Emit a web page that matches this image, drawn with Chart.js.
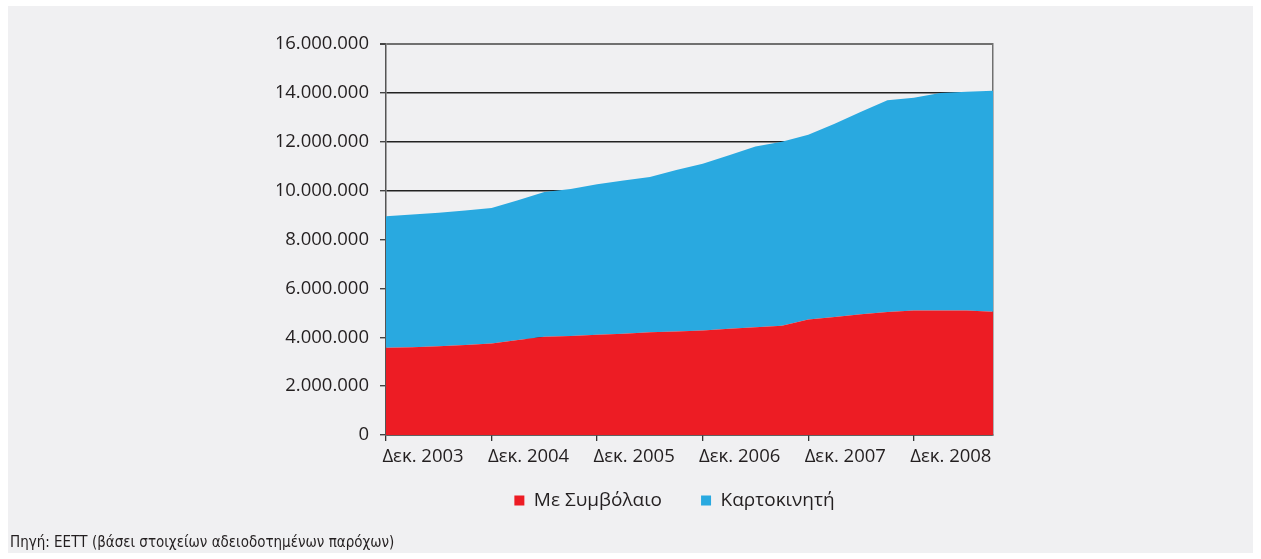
<!DOCTYPE html>
<html>
<head>
<meta charset="utf-8">
<script src="https://cdn.jsdelivr.net/npm/chart.js@4/dist/chart.umd.min.js"></script>
<style>
  html, body { margin: 0; padding: 0; background: #ffffff; }
  #panel { position: absolute; left: 8px; top: 6px; width: 1245px; height: 547px; background: #f0f0f2; }
  #c { position: absolute; left: 0; top: 0; }
  #source { position: absolute; left: 2px; top: 527px; font-family: "Liberation Sans Narrow", "DejaVu Sans Condensed", "Noto Sans", sans-serif; font-size: 15px; color: #231f20; white-space: nowrap; }
</style>
</head>
<body>
<div id="panel">
  <canvas id="c" width="1245" height="547"></canvas>
  <div id="source">Πηγή: ΕΕΤΤ (βάσει στοιχείων αδειοδοτημένων παρόχων)</div>
</div>
<script>
// Quarterly periods, Dec 2003 – Sep 2009
const quarters = [
  'Δεκ. 2003', 'Μαρ. 2004', 'Ιουν. 2004', 'Σεπ. 2004',
  'Δεκ. 2004', 'Μαρ. 2005', 'Ιουν. 2005', 'Σεπ. 2005',
  'Δεκ. 2005', 'Μαρ. 2006', 'Ιουν. 2006', 'Σεπ. 2006',
  'Δεκ. 2006', 'Μαρ. 2007', 'Ιουν. 2007', 'Σεπ. 2007',
  'Δεκ. 2007', 'Μαρ. 2008', 'Ιουν. 2008', 'Σεπ. 2008',
  'Δεκ. 2008', 'Μαρ. 2009', 'Ιουν. 2009', 'Σεπ. 2009'
];
const tickLabels = ['Δεκ. 2003', 'Δεκ. 2004', 'Δεκ. 2005', 'Δεκ. 2006', 'Δεκ. 2007', 'Δεκ. 2008'];
const seriesNames = ['Με Συμβόλαιο', 'Καρτοκινητή'];
const contract = [
  3570000, 3590000, 3630000, 3680000,
  3740000, 3890000, 4020000, 4050000,
  4100000, 4140000, 4200000, 4240000,
  4280000, 4350000, 4410000, 4470000,
  4730000, 4830000, 4940000, 5030000,
  5090000, 5090000, 5090000, 5040000
];
const prepaid = [
  5380000, 5430000, 5460000, 5510000,
  5550000, 5720000, 5920000, 6020000,
  6160000, 6270000, 6360000, 6600000,
  6820000, 7100000, 7400000, 7530000,
  7560000, 7910000, 8290000, 8670000,
  8710000, 8910000, 8960000, 9050000
];
const yTicks = [0, 2000000, 4000000, 6000000, 8000000, 10000000, 12000000, 14000000, 16000000];

const RED = '#ed1c24';
const BLUE = '#29a9e0';
const TEXT = '#231f20';
const FONT = '"Open Sans", "DejaVu Sans", sans-serif';

function fmt(v) {
  return String(Math.round(v)).replace(/\B(?=(\d{3})+(?!\d))/g, '.');
}

const legendShift = {
  id: 'legendShift',
  afterLayout(chart) {
    const lg = chart.legend;
    if (lg) { lg.top -= 17; lg.bottom -= 17; }
  }
};

new Chart(document.getElementById('c'), {
  type: 'line',
  plugins: [legendShift],
  data: {
    labels: quarters,
    datasets: [
      {
        label: seriesNames[0],
        data: contract,
        backgroundColor: RED,
        borderColor: 'rgba(0,0,0,0)',
        borderWidth: 0,
        pointRadius: 0,
        fill: 'origin',
        tension: 0
      },
      {
        label: seriesNames[1],
        data: prepaid,
        backgroundColor: BLUE,
        borderColor: 'rgba(0,0,0,0)',
        borderWidth: 0,
        pointRadius: 0,
        fill: '-1',
        tension: 0
      }
    ]
  },
  options: {
    responsive: false,
    animation: false,
    events: [],
    layout: { padding: { left: 269, right: 181, top: 38, bottom: 16 } },
    plugins: {
      tooltip: { enabled: false },
      title: { display: false },
      legend: {
        display: true,
        position: 'bottom',
        fullSize: true,
        labels: {
          boxWidth: 10,
          boxHeight: 10,
          padding: 39,
          color: TEXT,
          font: { family: FONT, size: 19 }
        }
      }
    },
    scales: {
      x: {
        type: 'category',
        offset: false,
        afterFit(scale) { scale.height = 34; },
        grid: {
          drawOnChartArea: false,
          drawTicks: true,
          tickLength: 6,
          color: (ctx) => (ctx.index % 4 === 0 ? '#333333' : 'rgba(0,0,0,0)'),
          lineWidth: 1.3
        },
        border: { display: true, color: '#3a3a3a', width: 1.6 },
        ticks: {
          autoSkip: false,
          maxRotation: 0,
          minRotation: 0,
          padding: 5,
          labelOffset: 37,
          color: TEXT,
          font: { family: FONT, size: 18.5 },
          callback(value, index) {
            const lab = this.getLabelForValue(value);
            return tickLabels.includes(lab) ? lab : '';
          }
        }
      },
      y: {
        type: 'linear',
        stacked: true,
        min: 0,
        max: 16000000,
        afterFit(scale) { scale.width = 109; },
        afterBuildTicks(scale) { scale.ticks = yTicks.map(v => ({ value: v })); },
        grid: {
          drawOnChartArea: true,
          drawTicks: true,
          tickLength: 6,
          tickColor: '#444444',
          color: (ctx) => (ctx.tick && ctx.tick.value === 16000000 ? '#707070' : '#222222'),
          lineWidth: (ctx) => (ctx.tick && ctx.tick.value === 16000000 ? 2 : 1.4)
        },
        border: { display: true, color: '#555555', width: 1.5 },
        ticks: {
          padding: 11,
          color: TEXT,
          font: { family: FONT, size: 18.5 },
          callback: (v) => fmt(v)
        }
      },
      y2: {
        type: 'linear',
        position: 'right',
        min: 0,
        max: 16000000,
        afterFit(scale) { scale.width = 79; },
        grid: { display: false, drawTicks: false },
        border: { display: true, color: '#707070', width: 1.5 },
        ticks: { display: false }
      }
    }
  }
});
</script>
</body>
</html>
